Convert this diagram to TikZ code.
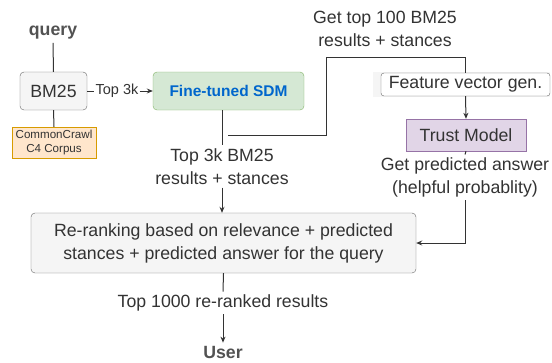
\documentclass[tikz,border=0pt]{standalone}
\usepackage{fontspec}
\setmainfont{Liberation Sans}
\usepackage{tikz}
\usetikzlibrary{calc, positioning, arrows.meta}

\definecolor{ink}{HTML}{333333}
\definecolor{greyfill}{HTML}{F5F5F5}
\definecolor{greyline}{HTML}{666666}
\definecolor{greenfill}{HTML}{D5E8D4}
\definecolor{greenline}{HTML}{82B366}
\definecolor{orangefill}{HTML}{FFE6CC}
\definecolor{orangeline}{HTML}{D79B00}
\definecolor{purplefill}{HTML}{E1D5E7}
\definecolor{purpleline}{HTML}{9673A6}
\definecolor{sdmblue}{HTML}{0066CC}

\tikzset{
  txt/.style={font=\fontsize{17.7}{23}\selectfont, text=ink, align=center, inner sep=3pt},
  boldtxt/.style={txt, font=\fontsize{17.7}{23}\selectfont\bfseries, text=ink!85!white},
  edgelbl/.style={txt, fill=white},
  greybox/.style={txt, rounded corners=4pt, fill=greyfill, draw=greyline, inner sep=0pt},
  conn/.style={draw=ink, line width=1pt},
}

\begin{document}
\begin{tikzpicture}[x=1pt, y=-1pt, >={Stealth[length=6pt,width=5pt]}]
      % 0. 畫布範圍
      \useasboundingbox (0,0) rectangle (552,362);

      % 1. 左側：query、BM25 與語料庫
      \node[boldtxt] (query) at (53,33) {query};
      \node[greybox, minimum width=67pt, minimum height=38pt] (bm) at (53.5,91) {BM25};
      \node[txt, font=\fontsize{11.6}{14.5}\selectfont, fill=orangefill, draw=orangeline,
            minimum width=84pt, minimum height=31pt, inner sep=0pt] (cc) at (54,142.5)
            {CommonCrawl\\C4 Corpus};

      % 2. 中間：Fine-tuned SDM
      \node[txt, font=\fontsize{15.5}{19}\selectfont\bfseries, text=sdmblue,
            rounded corners=4pt, fill=greenfill, draw=greenline,
            minimum width=151pt, minimum height=38pt, inner sep=0pt] (sdm) at (228.5,91)
            {Fine-tuned SDM};
      \node[edgelbl, font=\fontsize{14.5}{17}\selectfont, inner sep=1pt] (top3k) at (117,91) {Top 3k};

      % 3. 右側：特徵向量與 Trust Model
      \fill[greyfill] (373,72) rectangle (550,97);
      \node[txt, rounded corners=3pt, fill=white, draw=greyline,
            minimum width=169pt, minimum height=23pt, inner sep=0pt] (fv) at (465.5,84.5)
            {Feature vector gen.};
      \node[txt, fill=purplefill, draw=purpleline,
            minimum width=120pt, minimum height=32pt, inner sep=0pt] (trust) at (466,135)
            {Trust Model};

      % 4. 重新排序與輸出
      \node[greybox, minimum width=385pt, minimum height=60pt] (rerank) at (223.5,243)
            {Re-ranking based on relevance + predicted\\stances + predicted answer for the query};
      \node[boldtxt] (user) at (223,352) {User};

      % 5. 連線上的說明文字
      \node[edgelbl] (lblA) at (222,166.5) {Top 3k BM25\\results + stances};
      \node[edgelbl] (lblB) at (465,177.5) {Get predicted answer\\(helpful probablity)};
      \node[edgelbl] (lblC) at (385,29) {Get top 100 BM25\\results + stances};
      \node[edgelbl] (lblD) at (223,303) {Top 1000 re-ranked results};

      % 6. 連線
      \coordinate (split) at (228,135);
      \coordinate (kink) at (326,57);
      \draw[conn] (query.south) -- (bm.north);
      \draw[conn] (bm.south) -- (cc.north);
      \draw[conn] (bm.east) -- (top3k.west);
      \draw[conn, ->] (top3k.east) -- (sdm.west);
      \draw[conn] (sdm.south -| lblA) -- (lblA.north);
      \draw[conn, ->] (lblA.south) -- (lblA.south |- rerank.north);
      \draw[conn] (split) -| (kink) -| (fv.north);
      \draw[conn, ->] (fv.south) -- (trust.north);
      \draw[conn] (trust.south) -- (lblB.north);
      \draw[conn, ->] (lblB.south) |- (rerank.east);
      \draw[conn] (rerank.south) -- (lblD.north);
      \draw[conn, ->] (lblD.south) -- (user.north);
\end{tikzpicture}
\end{document}
